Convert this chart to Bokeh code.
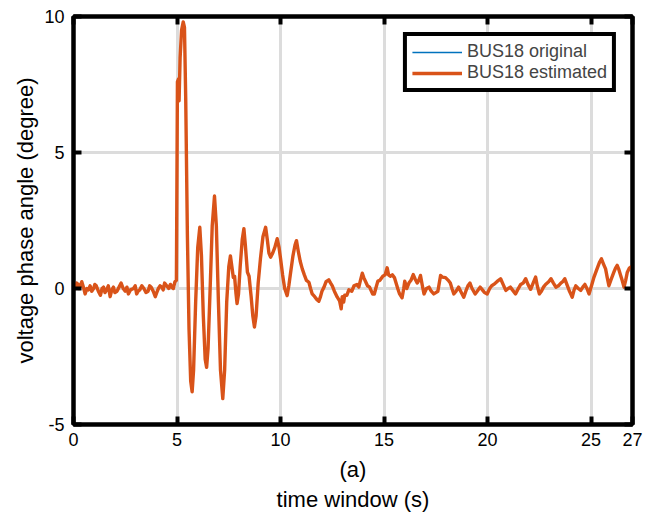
from bokeh.plotting import figure
from bokeh.models import LinearAxis, FixedTicker, Range1d, Legend, LegendItem
from bokeh.embed import file_html
from bokeh.resources import INLINE

# ---- data ----
time_s = [0.0, 0.08, 0.16, 0.22, 0.27, 0.33, 0.4, 0.48, 0.56, 0.65, 0.72, 0.8, 0.88, 0.97, 1.03, 1.1, 1.2, 1.3, 1.38, 1.45,
          1.52, 1.6, 1.68, 1.77, 1.85, 1.93, 2.0, 2.1, 2.2, 2.3, 2.4, 2.5, 2.58, 2.65, 2.75, 2.9, 2.98, 3.05, 3.12, 3.2,
          3.3, 3.4, 3.5, 3.6, 3.68, 3.75, 3.85, 3.95, 4.02, 4.1, 4.18, 4.27, 4.33, 4.4, 4.5, 4.6, 4.68, 4.75, 4.82, 4.9,
          4.97, 5.02, 5.07, 5.1, 5.15, 5.22, 5.3, 5.36, 5.42, 5.5, 5.58, 5.66, 5.73, 5.8, 5.9, 6.0, 6.1, 6.18, 6.27, 6.36,
          6.43, 6.5, 6.6, 6.7, 6.81, 6.9, 7.0, 7.1, 7.21, 7.3, 7.4, 7.5, 7.58, 7.65, 7.72, 7.78, 7.85, 7.9, 7.97, 8.05,
          8.15, 8.23, 8.3, 8.4, 8.48, 8.58, 8.66, 8.74, 8.82, 8.92, 9.03, 9.15, 9.28, 9.36, 9.44, 9.52, 9.62, 9.72, 9.84, 9.93,
          10.0, 10.1, 10.2, 10.32, 10.4, 10.48, 10.6, 10.7, 10.77, 10.85, 10.95, 11.05, 11.15, 11.25, 11.37, 11.45, 11.53, 11.65, 11.75, 11.85,
          11.93, 12.0, 12.1, 12.2, 12.33, 12.42, 12.5, 12.6, 12.74, 12.85, 12.93, 12.98, 13.05, 13.1, 13.2, 13.3, 13.44, 13.55, 13.69, 13.78,
          13.85, 13.95, 14.02, 14.1, 14.2, 14.3, 14.37, 14.45, 14.53, 14.6, 14.7, 14.8, 14.94, 15.05, 15.15, 15.22, 15.3, 15.4, 15.5, 15.58,
          15.66, 15.75, 15.87, 15.95, 16.0, 16.1, 16.2, 16.3, 16.41, 16.5, 16.6, 16.68, 16.76, 16.85, 16.93, 17.05, 17.17, 17.28, 17.4, 17.5,
          17.6, 17.73, 17.81, 17.97, 18.1, 18.2, 18.28, 18.37, 18.48, 18.6, 18.7, 18.85, 18.95, 19.05, 19.15, 19.25, 19.4, 19.5, 19.64, 19.75,
          19.85, 19.98, 20.1, 20.2, 20.3, 20.45, 20.63, 20.75, 20.88, 21.0, 21.1, 21.2, 21.35, 21.45, 21.6, 21.72, 21.84, 21.95, 22.08, 22.2,
          22.32, 22.4, 22.5, 22.6, 22.7, 22.8, 22.95, 23.06, 23.18, 23.3, 23.42, 23.54, 23.63, 23.73, 23.83, 23.94, 24.02, 24.09, 24.18, 24.26,
          24.38, 24.5, 24.6, 24.7, 24.8, 24.9, 25.02, 25.14, 25.3, 25.4, 25.5, 25.6, 25.7, 25.78, 25.86, 25.95, 26.1, 26.18, 26.26, 26.34,
          26.42, 26.5, 26.59, 26.67, 26.75, 26.85, 26.95, 27.0]

angle_estimated = [0.1, 0.0, 0.2, 0.15, 0.0, 0.1, 0.25, 0.05, -0.2, 0.0, -0.05, 0.1, -0.1, 0.0, 0.15, 0.1, -0.1, -0.25, 0.0, 0.05,
                   -0.15, -0.05, 0.1, -0.3, -0.05, 0.05, -0.15, -0.1, 0.05, 0.2, 0.0, -0.1, 0.05, -0.2, -0.05, 0.0, 0.1, -0.2, -0.1, -0.05,
                   0.1, 0.0, -0.15, -0.1, 0.1, 0.05, -0.1, -0.3, -0.15, 0.0, 0.1, 0.05, -0.05, 0.2, 0.1, 0.0, 0.15, 0.05, 0.0, 0.25,
                   0.3, 7.6, 7.7, 6.9, 8.5, 9.5, 9.8, 9.6, 7.0, 2.0, -1.5, -3.4, -3.8, -3.0, -0.5, 1.5, 2.25, 1.2, -1.0, -2.6,
                   -2.9, -2.2, 0.0, 2.3, 3.4, 2.3, -0.5, -3.0, -4.05, -3.0, -0.5, 0.8, 1.2, 0.8, 0.4, 0.45, -0.2, -0.55, -0.2, 0.8,
                   1.8, 2.2, 1.6, 0.6, 0.45, -0.3, -1.0, -1.42, -1.0, 0.2, 1.1, 1.9, 2.25, 1.8, 1.3, 1.15, 1.3, 1.5, 1.83, 1.5,
                   1.1, 0.5, 0.0, -0.26, 0.1, 0.55, 1.2, 1.6, 1.76, 1.4, 1.0, 0.72, 0.5, 0.3, 0.23, 0.0, -0.2, -0.3, -0.4, -0.47,
                   -0.3, -0.1, 0.05, 0.25, 0.32, 0.2, 0.1, -0.1, -0.32, -0.45, -0.75, -0.3, -0.5, -0.25, -0.25, -0.05, -0.1, 0.1, 0.15, 0.05,
                   0.27, 0.56, 0.4, 0.27, 0.1, 0.05, -0.07, -0.2, -0.2, 0.0, 0.27, 0.3, 0.45, 0.5, 0.76, 0.5, 0.45, 0.5, 0.4, 0.2,
                   0.0, -0.2, -0.34, 0.0, 0.27, 0.0, 0.2, 0.3, 0.51, 0.35, 0.2, 0.3, 0.48, 0.1, -0.2, 0.0, 0.05, -0.1, -0.2, -0.15,
                   -0.1, 0.48, 0.42, 0.4, 0.3, 0.2, 0.0, -0.2, -0.1, 0.05, -0.1, -0.32, -0.1, 0.1, 0.2, 0.0, -0.2, -0.1, 0.05, -0.05,
                   -0.15, -0.2, 0.0, 0.1, 0.15, 0.25, 0.36, 0.15, -0.07, 0.0, 0.05, -0.05, -0.2, -0.05, 0.15, 0.2, 0.36, 0.15, -0.03, 0.2,
                   0.42, 0.1, -0.2, -0.1, 0.05, 0.15, 0.25, 0.36, 0.2, 0.05, 0.1, 0.2, 0.25, 0.36, 0.15, -0.07, -0.2, -0.32, -0.05, 0.1,
                   0.0, -0.07, 0.05, 0.15, 0.0, -0.2, 0.1, 0.42, 0.75, 0.95, 1.09, 0.9, 0.72, 0.4, 0.1, 0.3, 0.6, 0.75, 0.85, 0.7,
                   0.5, 0.3, 0.05, 0.3, 0.6, 0.75, 0.81, 0.75]

# the original trace lies underneath the estimate (hidden in the reference)
angle_original = list(angle_estimated)

x_ticks = [0, 5, 10, 15, 20, 25, 27]
y_ticks = [-5, 0, 5, 10]
series_labels = ["BUS18 original", "BUS18 estimated"]

FONT = "Liberation Sans"

p = figure(frame_width=559, frame_height=408, x_range=Range1d(0, 27), y_range=Range1d(-5, 10),
           output_backend="svg", toolbar_location=None, x_axis_location=None, y_axis_location=None,
           min_border_left=73, min_border_right=13, min_border_top=16, min_border_bottom=0)
p.outline_line_color = "black"
p.outline_line_width = 4
p.outline_line_alpha = 1
p.background_fill_color = "white"


def style_axis(ax):
    ax.axis_line_width = 4
    ax.axis_line_color = "black"
    ax.major_tick_in = 8
    ax.major_tick_out = 0
    ax.major_tick_line_width = 4
    ax.minor_tick_line_color = None
    ax.major_label_text_font = FONT
    ax.major_label_text_font_size = "18px"
    ax.major_label_text_color = "black"
    ax.axis_label_text_font = FONT
    ax.axis_label_text_font_size = "22px"
    ax.axis_label_text_font_style = "normal"
    ax.axis_label_text_color = "black"


xb = LinearAxis(ticker=FixedTicker(ticks=x_ticks), axis_label="(a)\ntime window (s)")
style_axis(xb)
xb.major_label_standoff = 8
xb.axis_label_standoff = 8
p.add_layout(xb, "below")

yl = LinearAxis(ticker=FixedTicker(ticks=y_ticks), axis_label="voltage phase angle (degree)")
style_axis(yl)
yl.major_label_standoff = 9
yl.axis_label_standoff = 3
yl.major_label_overrides = {-5: "-5"}
p.add_layout(yl, "left")

xt = LinearAxis(ticker=FixedTicker(ticks=x_ticks))
style_axis(xt)
xt.major_label_overrides = {t: "" for t in x_ticks}
xt.major_label_standoff = 0
p.add_layout(xt, "above")

yr = LinearAxis(ticker=FixedTicker(ticks=y_ticks))
style_axis(yr)
yr.major_label_overrides = {t: "" for t in y_ticks}
yr.major_label_standoff = 0
p.add_layout(yr, "right")

p.xgrid.ticker = FixedTicker(ticks=x_ticks[:-1])
p.ygrid.ticker = FixedTicker(ticks=y_ticks)
for g in (p.xgrid, p.ygrid):
    g.grid_line_color = "#dcdcdc"
    g.grid_line_width = 3
    g.grid_line_alpha = 1

r_orig = p.line(time_s, angle_original, line_color="#0072BD", line_width=1.5)
r_est = p.line(time_s, angle_estimated, line_color="#D95319", line_width=3.4, line_join="round")

legend = Legend(items=[LegendItem(label=series_labels[0], renderers=[r_orig]),
                       LegendItem(label=series_labels[1], renderers=[r_est])],
                location="top_right")
legend.margin = 16
legend.padding = 5
legend.spacing = 0
legend.glyph_width = 50
legend.glyph_height = 18
legend.label_height = 18
legend.label_standoff = 5
legend.label_text_font = FONT
legend.label_text_font_size = "18px"
legend.border_line_color = "black"
legend.border_line_width = 4
legend.border_line_alpha = 1
legend.background_fill_color = "white"
legend.background_fill_alpha = 1
p.add_layout(legend)

open("out.html", "w").write(file_html(p, INLINE))
